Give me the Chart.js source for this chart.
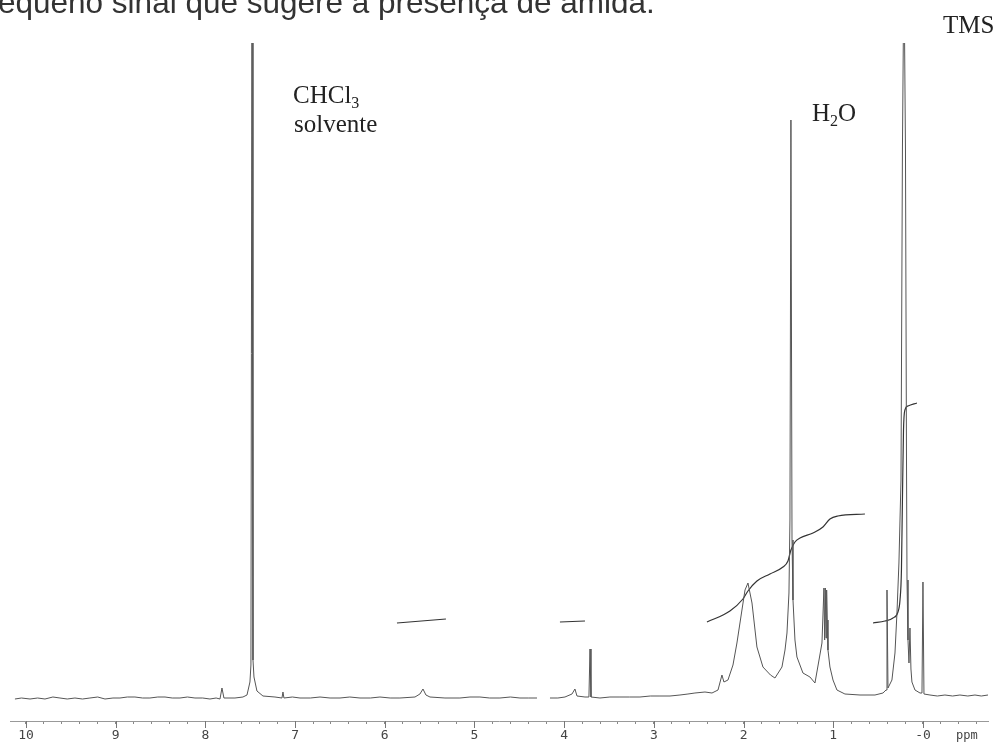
<!DOCTYPE html>
<html><head><meta charset="utf-8">
<script src="https://cdn.jsdelivr.net/npm/chart.js@4/dist/chart.umd.min.js"></script>
<style>
html,body{margin:0;padding:0;background:#fff;width:996px;height:745px;overflow:hidden}
body{position:relative}
#c{position:absolute;left:0;top:0}
.lbl{position:absolute;font-family:"Liberation Serif","Times New Roman",serif;font-size:25px;color:#222;line-height:1;white-space:nowrap}
.lbl sub{font-size:16px;vertical-align:-5px;line-height:0}
#cap{position:absolute;left:-2px;top:-13px;font-family:"Liberation Sans",Arial,sans-serif;font-size:31.5px;color:#333;white-space:nowrap;line-height:1}
#ppm{position:absolute;left:956px;top:729px;font-family:"DejaVu Sans Mono",monospace;font-size:12px;color:#444;line-height:1}
</style></head>
<body>
<canvas id="c" width="996" height="745"></canvas>
<div id="cap">equeno sinal que sugere a presença de amida.</div>
<div class="lbl" style="left:943px;top:12px">TMS</div>
<div class="lbl" style="left:293px;top:82px">CHCl<sub>3</sub></div>
<div class="lbl" style="left:294px;top:111px">solvente</div>
<div class="lbl" style="left:812px;top:100px">H<sub>2</sub>O</div>
<div id="ppm">ppm</div>
<script>
// Spectrum (chemical shift in ppm, intensity in arbitrary units); null = gap in trace
const specPpm = [10.123,10.05,9.955,9.87,9.788,9.70,9.621,9.54,9.454,9.37,9.287,9.20,9.119,9.03,8.952,8.87,8.785,8.70,8.618,8.53,8.450,8.37,8.283,8.20,8.116,8.03,7.949,7.88,7.837,7.815,7.793,7.670,7.581,7.536,7.503,7.492,7.480,7.469,7.458,7.425,7.358,7.224,7.146,7.135,7.124,7.03,6.945,6.83,6.722,6.61,6.499,6.39,6.276,6.16,6.054,5.94,5.831,5.663,5.608,5.574,5.541,5.496,5.329,5.162,5.05,4.939,4.83,4.716,4.60,4.493,4.40,4.303,4.23,4.158,4.07,3.991,3.913,3.880,3.857,3.768,3.724,3.712,3.701,3.601,3.49,3.378,3.27,3.155,3.04,2.932,2.82,2.709,2.62,2.542,2.430,2.352,2.285,2.241,2.219,2.174,2.118,2.074,2.018,1.984,1.951,1.906,1.851,1.784,1.70,1.650,1.572,1.538,1.516,1.494,1.483,1.472,1.460,1.449,1.427,1.405,1.338,1.260,1.204,1.159,1.126,1.104,1.096,1.089,1.081,1.074,1.067,1.059,1.037,1.003,0.959,0.870,0.702,0.535,0.446,0.412,0.401,0.390,0.346,0.312,0.290,0.268,0.245,0.229,0.212,0.195,0.184,0.178,0.167,0.156,0.145,0.134,0.123,0.089,0.033,0.011,0.000,-0.011,-0.078,-0.16,-0.245,-0.33,-0.412,-0.50,-0.580,-0.65,-0.725];
const specInt = [22,23,22,23,22,24,23,22,23,22,23,24,22,23,23,24,24,23,23,24,24,23,23,24,23,23,22,23,22,33,23,23,24,26,39,56,760,61,44,30,25,24,23,29,23,24,23,23,24,23,23,24,23,23,24,23,23,24,27,32,26,24,23,23,24,24,23,23,24,23,23,23,null,23,23,24,27,32,25,24,24,72,24,23,24,24,24,24,25,25,25,26,27,28,29,28,31,46,39,41,56,78,111,131,138,118,74,54,46,43,54,71,88,128,201,601,181,121,81,64,48,44,38,61,78,133,81,133,83,131,101,71,54,41,31,27,26,26,28,31,131,33,41,68,108,158,241,571,760,571,271,141,81,58,93,52,39,31,28,28,139,27,26,25,26,25,26,25,26,25,26];

// Integration traces
const int1Ppm = [2.408,2.152,2.007,1.951,1.851,1.706,1.561,1.505,1.472,1.427,1.371,1.226,1.115,1.037,0.948,0.647];
const int1Val = [99,110,122,130,140,147,154,160,171,179,183,188,194,202,205,207];
const int2Ppm = [0.557,0.424,0.334,0.279,0.256,0.240,0.229,0.217,0.201,0.167,0.067];
const int2Val = [98,100,103,109,121,151,221,291,311,315,318];
const int3Ppm = [5.864,5.318];
const int3Val = [98,102];
const int4Ppm = [4.047,3.768];
const int4Val = [99,100];

// Axis ticks
const majorTicks = [10,9,8,7,6,5,4,3,2,1,0];
const tickLabels = ["10","9","8","7","6","5","4","3","2","1","-0"];
const minorTicks = [];
for (let k = -3; k <= 50; k++) minorTicks.push(k / 5);

const toPts = (xs, ys) => xs.map((x, i) => ({x: x, y: ys[i]}));

const majorTickPlugin = {
  id: 'majorTicks',
  afterDraw(chart) {
    const s = chart.scales.x, c = chart.ctx;
    c.save();
    c.strokeStyle = '#777'; c.lineWidth = 1;
    majorTicks.forEach(v => {
      const px = Math.round(s.getPixelForValue(v)) + 0.5;
      c.beginPath(); c.moveTo(px, s.top); c.lineTo(px, s.top + 7); c.stroke();
    });
    c.restore();
  }
};

const lineDs = (pts, color, w, smooth) => ({
  data: pts, borderColor: color, borderWidth: w, pointRadius: 0, fill: false,
  tension: smooth ? 0.4 : 0, cubicInterpolationMode: smooth ? 'monotone' : 'default', spanGaps: false
});

new Chart(document.getElementById('c').getContext('2d'), {
  type: 'line',
  data: { datasets: [
    lineDs(toPts(specPpm, specInt), '#555', 1, false),
    lineDs(toPts(int1Ppm, int1Val), '#333', 1.2, true),
    lineDs(toPts(int2Ppm, int2Val), '#333', 1.2, true),
    lineDs(toPts(int3Ppm, int3Val), '#333', 1.2, false),
    lineDs(toPts(int4Ppm, int4Val), '#333', 1.2, false)
  ]},
  options: {
    responsive: false, animation: false,
    layout: { padding: { left: 10, right: 8, top: 43, bottom: 0 } },
    plugins: { legend: { display: false }, tooltip: { enabled: false } },
    scales: {
      x: {
        type: 'linear', reverse: true, min: -0.725, max: 10.178,
        afterBuildTicks: s => { s.ticks = minorTicks.map(v => ({ value: v })); },
        afterFit: s => { s.height = 24; },
        grid: { display: true, drawOnChartArea: false, drawTicks: true, tickLength: 3, tickColor: '#888', color: '#888' },
        border: { display: true, color: '#999', width: 1 },
        ticks: {
          autoSkip: false, maxRotation: 0, minRotation: 0, padding: 4, color: '#444',
          font: { family: 'DejaVu Sans Mono', size: 13 },
          callback: (v) => { const i = majorTicks.findIndex(m => Math.abs(m - v) < 1e-6); return i >= 0 ? tickLabels[i] : ''; }
        }
      },
      y: { display: false, min: 0, max: 678 }
    }
  },
  plugins: [majorTickPlugin]
});
</script>
</body></html>
